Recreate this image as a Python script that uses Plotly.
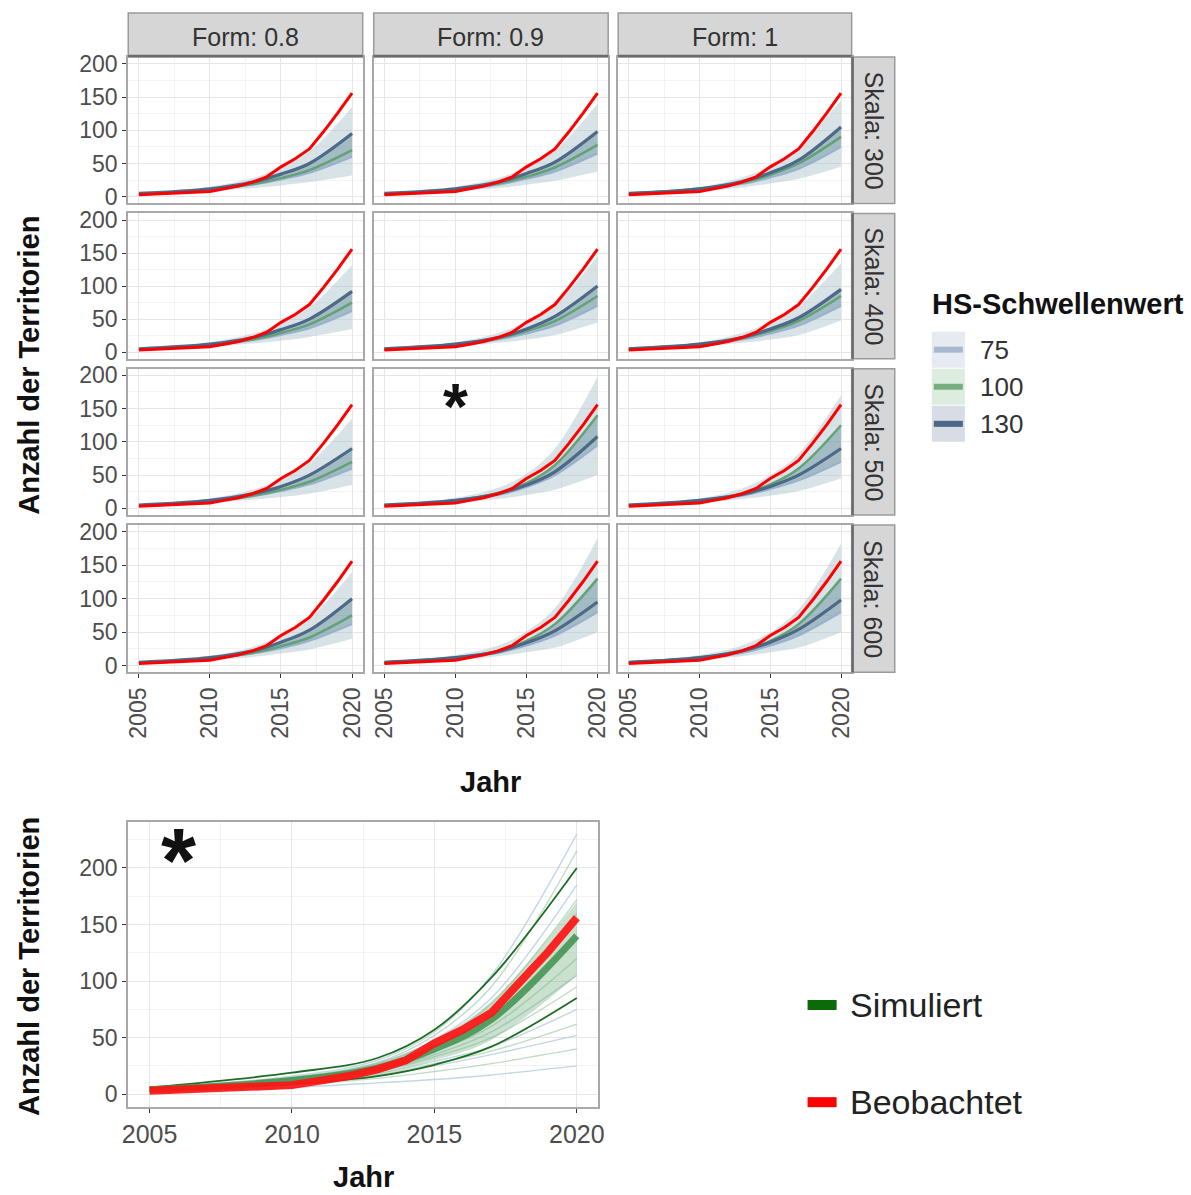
import plotly.graph_objects as go

W, H = 1191, 1195
# positions below are given in picture pixels; the photo of the page is slightly
# shrunk (about 0.988) and shifted (about 6 px), so map them back to page pixels
S, T0 = 0.988, 6.0
def px_page(p): return (p - T0) / S
def fx(p): return px_page(p) / W
def fy(p): return 1 - px_page(p) / H

# ---------------- data ----------------
years = list(range(2005, 2021))
observed = [3, 4, 5, 6, 7, 8, 12, 16, 22, 30, 45, 57, 72, 98, 126, 156]
sim_years = [2005, 2010, 2013, 2015, 2017, 2020]

form_labels = ["Form: 0.8", "Form: 0.9", "Form: 1"]
skala_labels = ["Skala: 300", "Skala: 400", "Skala: 500", "Skala: 600"]
hs_levels = ["75", "100", "130"]

# panels in row-major order (Skala 300..600) x (Form 0.8, 0.9, 1)
med_75 = [
    [4, 10, 18, 26, 36, 60], [4, 10, 18, 27, 38, 65], [4, 11, 19, 29, 42, 75],
    [4, 10, 18, 26, 36, 62], [4, 11, 19, 28, 40, 70], [4, 11, 19, 28, 40, 70],
    [4, 10, 18, 26, 36, 60], [4, 11, 20, 32, 50, 95], [4, 11, 19, 29, 42, 70],
    [4, 10, 18, 26, 37, 62], [4, 11, 19, 30, 45, 80], [4, 11, 19, 30, 45, 80],
]
med_100 = [
    [4, 11, 19, 28, 40, 70], [4, 11, 20, 30, 44, 78], [5, 12, 21, 33, 50, 90],
    [4, 11, 19, 29, 42, 75], [5, 12, 21, 32, 47, 85], [5, 12, 21, 32, 47, 85],
    [4, 11, 19, 28, 40, 70], [5, 12, 23, 38, 65, 140], [5, 12, 22, 36, 60, 125],
    [4, 11, 19, 29, 42, 75], [5, 12, 22, 37, 62, 130], [5, 12, 22, 37, 62, 130],
]
med_130 = [
    [5, 12, 22, 34, 50, 95], [5, 12, 22, 35, 52, 98], [5, 12, 23, 36, 55, 105],
    [5, 12, 22, 34, 50, 92], [5, 12, 22, 35, 54, 100], [5, 12, 22, 35, 52, 95],
    [5, 12, 22, 33, 50, 90], [5, 12, 22, 35, 55, 108], [5, 12, 21, 33, 50, 90],
    [5, 12, 22, 35, 53, 100], [5, 12, 21, 34, 52, 95], [5, 12, 22, 35, 54, 98],
]
env_lo = [
    [3, 8, 13, 17, 22, 32], [3, 8, 13, 18, 24, 38], [3, 8, 14, 20, 27, 45],
    [3, 8, 13, 17, 23, 35], [3, 8, 14, 19, 26, 45], [3, 8, 14, 19, 26, 48],
    [3, 8, 13, 17, 22, 35], [3, 8, 14, 20, 28, 50], [3, 8, 14, 19, 26, 45],
    [3, 8, 13, 18, 24, 40], [3, 8, 14, 20, 27, 50], [3, 8, 14, 20, 27, 50],
]
env_hi = [
    [6, 15, 28, 44, 68, 135], [6, 15, 28, 45, 70, 140], [6, 15, 29, 47, 75, 145],
    [6, 15, 28, 44, 68, 132], [6, 15, 29, 46, 72, 145], [6, 15, 29, 46, 70, 135],
    [6, 15, 28, 44, 68, 135], [6, 16, 31, 52, 90, 198], [6, 15, 30, 50, 82, 170],
    [6, 15, 28, 45, 70, 140], [6, 16, 30, 51, 86, 190], [6, 16, 30, 50, 84, 182],
]

# bottom panel (Skala 500, Form 0.9, HS 100)
bottom_median = [4, 12, 23, 40, 66, 140]
bottom_band_lo = [3, 9, 18, 30, 48, 105]
bottom_band_hi = [6, 15, 28, 48, 82, 170]
bottom_q_lo = [3, 9, 16, 26, 42, 85]
bottom_q_hi = [6, 19, 32, 57, 103, 200]
bottom_runs = [
    [6, 16, 30, 55, 105, 230],
    [5, 15, 28, 52, 95, 215],
    [5, 14, 27, 48, 85, 185],
    [5, 14, 26, 46, 80, 172],
    [4, 13, 24, 42, 72, 160],
    [4, 12, 22, 38, 60, 120],
    [4, 11, 21, 35, 55, 105],
    [4, 11, 20, 33, 50, 95],
    [3, 10, 18, 29, 42, 75],
    [3, 10, 17, 27, 38, 62],
    [3, 9, 16, 25, 35, 52],
    [3, 8, 14, 20, 27, 40],
    [2, 6, 10, 13, 17, 25],
]

# ---------------- styling ----------------
FONT = "Liberation Sans, Arial, sans-serif"
col_x = [(128, 362), (373, 607), (617, 850)]
row_y = [(57, 203), (213, 358), (368, 514), (524, 671)]
bot_x = (128, 597)
bot_y = (820, 1105)

c75 = "rgba(150,175,205,0.95)"
c100 = "rgba(95,160,115,0.95)"
c130 = "rgba(72,100,132,0.95)"

fig = go.Figure()
layout = {}
shapes = []
annotations = []

def axname(n, kind):
    return kind if n == 1 else f"{kind}{n}"

def common_axis(tickfont_size):
    return dict(
        showgrid=True, gridcolor="#e6e6e6", gridwidth=1,
        showline=True, mirror=True, linecolor="#a8a8a8", linewidth=2,
        zeroline=False, tickcolor="#333333", ticklen=4,
        tickfont=dict(family=FONT, size=tickfont_size, color="#4d4d4d"),
    )

for r in range(4):
    for c in range(3):
        i = r * 3 + c
        n = i + 1
        xa, ya = axname(n, "x"), axname(n, "y")
        fig.add_trace(go.Scatter(x=sim_years, y=env_lo[i], xaxis=xa, yaxis=ya, mode="lines",
                                 line=dict(width=0, shape="spline"), showlegend=False, hoverinfo="skip"))
        fig.add_trace(go.Scatter(x=sim_years, y=env_hi[i], xaxis=xa, yaxis=ya, mode="lines",
                                 line=dict(width=0, shape="spline"), fill="tonexty",
                                 fillcolor="rgba(168,194,205,0.45)", showlegend=False, hoverinfo="skip"))
        lo_m = [min(a, b, d) for a, b, d in zip(med_75[i], med_100[i], med_130[i])]
        hi_m = [max(a, b, d) for a, b, d in zip(med_75[i], med_100[i], med_130[i])]
        fig.add_trace(go.Scatter(x=sim_years, y=lo_m, xaxis=xa, yaxis=ya, mode="lines",
                                 line=dict(width=0, shape="spline"), showlegend=False, hoverinfo="skip"))
        fig.add_trace(go.Scatter(x=sim_years, y=hi_m, xaxis=xa, yaxis=ya, mode="lines",
                                 line=dict(width=0, shape="spline"), fill="tonexty",
                                 fillcolor="rgba(85,128,140,0.4)", showlegend=False, hoverinfo="skip"))
        for arr, col, w in ((med_75, c75, 2), (med_100, c100, 2.5), (med_130, c130, 3.2)):
            fig.add_trace(go.Scatter(x=sim_years, y=arr[i], xaxis=xa, yaxis=ya, mode="lines",
                                     line=dict(color=col, width=w, shape="spline"),
                                     showlegend=False, hoverinfo="skip"))
        fig.add_trace(go.Scatter(x=years, y=observed, xaxis=xa, yaxis=ya, mode="lines",
                                 line=dict(color="#ff0000", width=3), showlegend=False))

        x0, x1 = col_x[c]
        y0, y1 = row_y[r]
        xd = common_axis(23)
        xd.update(domain=[fx(x0), fx(x1)], anchor=ya, range=[2004.25, 2020.75],
                  tick0=2005, dtick=5, tickangle=-90,
                  minor=dict(dtick=2.5, showgrid=True, gridcolor="#f3f3f3"),
                  ticks="outside" if r == 3 else "", showticklabels=(r == 3))
        yd = common_axis(23)
        yd.update(domain=[fy(y1), fy(y0)], anchor=xa, range=[-10, 210],
                  tick0=0, dtick=50,
                  minor=dict(dtick=25, showgrid=True, gridcolor="#f3f3f3"),
                  ticks="outside" if c == 0 else "", showticklabels=(c == 0))
        layout["xaxis" if n == 1 else f"xaxis{n}"] = xd
        layout["yaxis" if n == 1 else f"yaxis{n}"] = yd

# strips on top
for c in range(3):
    x0, x1 = col_x[c]
    shapes.append(dict(type="rect", xref="paper", yref="paper", x0=fx(x0), x1=fx(x1),
                       y0=fy(57), y1=fy(13), fillcolor="#d6d6d6",
                       line=dict(color="#9a9a9a", width=1.5), layer="above"))
    shapes.append(dict(type="line", xref="paper", yref="paper", x0=fx(x0), x1=fx(x1),
                       y0=fy(56), y1=fy(56), line=dict(color="#6b6b6b", width=2.5)))
    annotations.append(dict(text=form_labels[c], xref="paper", yref="paper",
                            x=fx((x0 + x1) / 2), y=fy(37), showarrow=False,
                            font=dict(family=FONT, size=25, color="#333333"),
                            xanchor="center", yanchor="middle"))
# strips on right
for r in range(4):
    y0, y1 = row_y[r]
    shapes.append(dict(type="rect", xref="paper", yref="paper", x0=fx(850), x1=fx(893),
                       y0=fy(y1), y1=fy(y0), fillcolor="#d6d6d6",
                       line=dict(color="#9a9a9a", width=1.5), layer="above"))
    shapes.append(dict(type="line", xref="paper", yref="paper", x0=fx(851), x1=fx(851),
                       y0=fy(y1), y1=fy(y0), line=dict(color="#6b6b6b", width=2.5)))
    annotations.append(dict(text=skala_labels[r], xref="paper", yref="paper",
                            x=fx(872), y=fy((y0 + y1) / 2), showarrow=False, textangle=90,
                            font=dict(family=FONT, size=25, color="#333333"),
                            xanchor="center", yanchor="middle"))

# star in Skala 500 / Form 0.9
annotations.append(dict(text="<b>*</b>", xref="paper", yref="paper", x=fx(455), y=fy(406),
                        showarrow=False, font=dict(family=FONT, size=64, color="#111111"),
                        xanchor="center", yanchor="middle"))

# facet axis titles
annotations.append(dict(text="<b>Anzahl der Territorien</b>", xref="paper", yref="paper",
                        x=fx(29), y=fy(365), showarrow=False, textangle=-90,
                        font=dict(family=FONT, size=29, color="#111111"),
                        xanchor="center", yanchor="middle"))
annotations.append(dict(text="<b>Jahr</b>", xref="paper", yref="paper",
                        x=fx(490), y=fy(780), showarrow=False,
                        font=dict(family=FONT, size=29, color="#111111"),
                        xanchor="center", yanchor="middle"))

# HS legend
annotations.append(dict(text="<b>HS-Schwellenwert</b>", xref="paper", yref="paper",
                        x=fx(928), y=fy(303), showarrow=False,
                        font=dict(family=FONT, size=29, color="#111111"),
                        xanchor="left", yanchor="middle"))
key_bg = ["#e6ebf1", "#dcecdf", "#d8dce5"]
key_col = ["#a7b9d0", "#78ae7e", "#4f6789"]
key_y = [349, 386, 423]
for k in range(3):
    yc = key_y[k]
    shapes.append(dict(type="rect", xref="paper", yref="paper", x0=fx(930), x1=fx(963),
                       y0=fy(yc + 18), y1=fy(yc - 18), fillcolor=key_bg[k], line=dict(width=0)))
    shapes.append(dict(type="rect", xref="paper", yref="paper", x0=fx(932), x1=fx(961),
                       y0=fy(yc + 3), y1=fy(yc - 3), fillcolor=key_col[k], line=dict(width=0)))
    annotations.append(dict(text=hs_levels[k], xref="paper", yref="paper", x=fx(976), y=fy(yc),
                            showarrow=False, font=dict(family=FONT, size=26, color="#333333"),
                            xanchor="left", yanchor="middle"))

# ---------------- bottom panel ----------------
n = 13
xa, ya = axname(n, "x"), axname(n, "y")
for k, run in enumerate(bottom_runs):
    col = "rgba(170,196,218,0.7)" if k % 2 == 0 else "rgba(130,185,140,0.5)"
    fig.add_trace(go.Scatter(x=sim_years, y=run, xaxis=xa, yaxis=ya, mode="lines",
                             line=dict(color=col, width=1.4, shape="spline"),
                             showlegend=False, hoverinfo="skip"))
fig.add_trace(go.Scatter(x=sim_years, y=bottom_band_lo, xaxis=xa, yaxis=ya, mode="lines",
                         line=dict(width=0, shape="spline"), showlegend=False, hoverinfo="skip"))
fig.add_trace(go.Scatter(x=sim_years, y=bottom_band_hi, xaxis=xa, yaxis=ya, mode="lines",
                         line=dict(width=0, shape="spline"), fill="tonexty",
                         fillcolor="rgba(120,180,130,0.4)", showlegend=False, hoverinfo="skip"))
for q in (bottom_q_lo, bottom_q_hi):
    fig.add_trace(go.Scatter(x=sim_years, y=q, xaxis=xa, yaxis=ya, mode="lines",
                             line=dict(color="#1e6e22", width=1.8, shape="spline"),
                             showlegend=False, hoverinfo="skip"))
fig.add_trace(go.Scatter(x=sim_years, y=bottom_median, xaxis=xa, yaxis=ya, mode="lines",
                         line=dict(color="rgba(70,150,85,0.9)", width=7, shape="spline"),
                         showlegend=False, hoverinfo="skip"))
fig.add_trace(go.Scatter(x=years, y=observed, xaxis=xa, yaxis=ya, mode="lines",
                         line=dict(color="rgba(255,20,20,0.92)", width=8), showlegend=False))

xd = common_axis(25)
xd.update(domain=[fx(bot_x[0]), fx(bot_x[1])], anchor=ya, range=[2004.25, 2020.75],
          tick0=2005, dtick=5, ticks="outside",
          minor=dict(dtick=2.5, showgrid=True, gridcolor="#f3f3f3"))
yd = common_axis(23)
yd.update(domain=[fy(bot_y[1]), fy(bot_y[0])], anchor=xa, range=[-11.5, 241],
          tick0=0, dtick=50, ticks="outside",
          minor=dict(dtick=25, showgrid=True, gridcolor="#f3f3f3"))
layout["xaxis13"] = xd
layout["yaxis13"] = yd

annotations.append(dict(text="<b>*</b>", xref="paper", yref="paper", x=fx(178), y=fy(859),
                        showarrow=False, font=dict(family=FONT, size=90, color="#111111"),
                        xanchor="center", yanchor="middle"))
annotations.append(dict(text="<b>Anzahl der Territorien</b>", xref="paper", yref="paper",
                        x=fx(29), y=fy(965), showarrow=False, textangle=-90,
                        font=dict(family=FONT, size=29, color="#111111"),
                        xanchor="center", yanchor="middle"))
annotations.append(dict(text="<b>Jahr</b>", xref="paper", yref="paper",
                        x=fx(363), y=fy(1175), showarrow=False,
                        font=dict(family=FONT, size=29, color="#111111"),
                        xanchor="center", yanchor="middle"))

# bottom legend
leg_items = [("Simuliert", "#0b6b0b", 1003), ("Beobachtet", "#ff0000", 1100)]
for label, col, yc in leg_items:
    shapes.append(dict(type="rect", xref="paper", yref="paper", x0=fx(806), x1=fx(835),
                       y0=fy(yc + 5), y1=fy(yc - 5), fillcolor=col, line=dict(width=0)))
    annotations.append(dict(text=label, xref="paper", yref="paper", x=fx(846), y=fy(yc),
                            showarrow=False, font=dict(family=FONT, size=34, color="#222222"),
                            xanchor="left", yanchor="middle"))

fig.update_layout(
    width=W, height=H, margin=dict(l=0, r=0, t=0, b=0),
    paper_bgcolor="white", plot_bgcolor="white",
    showlegend=False, shapes=shapes, annotations=annotations,
    font=dict(family=FONT), **layout,
)

fig.write_html("out.html", config={"displayModeBar": False},
               post_script="document.body.style.margin='0';")
